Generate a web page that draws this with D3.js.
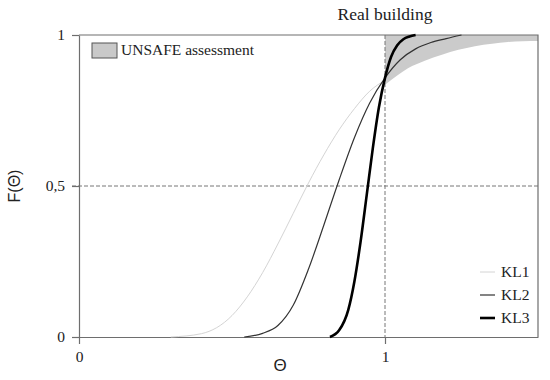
<!DOCTYPE html>
<html>
<head>
<meta charset="utf-8">
<script src="https://cdn.jsdelivr.net/npm/d3@7"></script>
<style>
  body { margin: 0; background: #fff; }
  svg text { font-family: "Liberation Serif", serif; fill: #222; }
</style>
</head>
<body>
<div id="chart"></div>
<script>
// values
const kl1Theta = [0.30, 0.40, 0.50, 0.55, 0.60, 0.65, 0.70, 0.75, 0.80, 0.85, 0.90, 0.95, 1.00];
const kl1F     = [0.000, 0.011, 0.071, 0.133, 0.213, 0.308, 0.409, 0.510, 0.603, 0.686, 0.756, 0.814, 0.850];

const kl2Theta = [0.54, 0.60, 0.65, 0.70, 0.75, 0.80, 0.85, 0.90, 0.95, 1.00, 1.05, 1.10, 1.15, 1.20, 1.25];
const kl2F     = [0.000, 0.012, 0.038, 0.105, 0.225, 0.370, 0.520, 0.660, 0.775, 0.858, 0.918, 0.954, 0.975, 0.988, 1.000];

const kl3Theta = [0.82, 0.85, 0.88, 0.90, 0.92, 0.94, 0.96, 0.98, 1.00, 1.02, 1.04, 1.06, 1.08, 1.10];
const kl3F     = [0.000, 0.022, 0.090, 0.184, 0.314, 0.468, 0.624, 0.760, 0.858, 0.928, 0.966, 0.986, 0.995, 1.000];

// lower edge of the grey UNSAFE band (upper edge is F = 1)
const bandTheta = [1.00, 1.04, 1.075, 1.13, 1.186, 1.24, 1.294, 1.35, 1.402, 1.45, 1.50];
const bandF     = [0.835, 0.866, 0.890, 0.915, 0.935, 0.951, 0.963, 0.971, 0.977, 0.979, 0.980];

const yTicks = [0, 0.5, 1];
const yTickLabels = ['0', '0,5', '1'];
const xTicks = [0, 1];
const seriesNames = ['KL1', 'KL2', 'KL3'];

const serif = '"Liberation Serif", "Times New Roman", serif';
const sans = '"Liberation Sans", Arial, sans-serif';

const width = 550, height = 380;
const margin = {top: 35, right: 12, bottom: 43, left: 79};

const svg = d3.select('#chart')
    .append('svg')
    .attr('width', width)
    .attr('height', height);

const x = d3.scaleLinear().domain([0, 1.5]).range([margin.left, width - margin.right]);
const y = d3.scaleLinear().domain([0, 1]).range([height - margin.bottom, margin.top]);

const axisColor = '#6e6e6e';

// grey band
const bandPts = bandTheta.map((t, i) => [t, bandF[i]]);
const area = d3.area()
    .x(d => x(d[0]))
    .y0(y(1))
    .y1(d => y(d[1]))
    .curve(d3.curveMonotoneX);
svg.append('path')
    .datum(bandPts)
    .attr('d', area)
    .attr('fill', '#cbcbcb');

// dashed reference lines
svg.append('line')
    .attr('x1', x(0) - 7).attr('x2', x(1.5))
    .attr('y1', y(0.5)).attr('y2', y(0.5))
    .attr('stroke', '#777').attr('stroke-width', 1)
    .attr('stroke-dasharray', '4,2');
svg.append('line')
    .attr('x1', x(1)).attr('x2', x(1))
    .attr('y1', y(1)).attr('y2', y(0))
    .attr('stroke', '#777').attr('stroke-width', 1)
    .attr('stroke-dasharray', '4,2');

// box: top and right
svg.append('path')
    .attr('d', `M${x(0)},${y(1)}H${x(1.5)}V${y(0)}`)
    .attr('fill', 'none')
    .attr('stroke', axisColor)
    .attr('stroke-width', 1.2);

// axes
const yAxis = d3.axisLeft(y)
    .tickValues(yTicks)
    .tickSize(7)
    .tickSizeOuter(0)
    .tickPadding(7)
    .tickFormat((d, i) => yTickLabels[i]);
const gy = svg.append('g')
    .attr('transform', `translate(${x(0)},0)`)
    .call(yAxis);

const xAxis = d3.axisBottom(x)
    .tickValues(xTicks)
    .tickSize(7)
    .tickSizeOuter(0)
    .tickPadding(7)
    .tickFormat(d3.format('d'));
const gx = svg.append('g')
    .attr('transform', `translate(0,${y(0)})`)
    .call(xAxis);

[gx, gy].forEach(g => {
    g.attr('font-family', null).attr('font-size', null);
    g.selectAll('.domain').attr('stroke', axisColor).attr('stroke-width', 1.2);
    g.selectAll('.tick line').attr('stroke', axisColor).attr('stroke-width', 1.2);
    g.selectAll('.tick text')
        .attr('fill', '#222')
        .style('font-family', serif)
        .style('font-size', '15.5px');
});

// curves
const line = d3.line()
    .x(d => x(d[0]))
    .y(d => y(d[1]))
    .curve(d3.curveMonotoneX);

const series = [
    {name: seriesNames[0], theta: kl1Theta, f: kl1F, color: '#d4d4d4', w: 1},
    {name: seriesNames[1], theta: kl2Theta, f: kl2F, color: '#333', w: 1.2},
    {name: seriesNames[2], theta: kl3Theta, f: kl3F, color: '#000', w: 2.6}
];

series.forEach(s => {
    svg.append('path')
        .datum(s.theta.map((t, i) => [t, s.f[i]]))
        .attr('d', line)
        .attr('fill', 'none')
        .attr('stroke', s.color)
        .attr('stroke-width', s.w);
});

// legend for curves
series.forEach((s, i) => {
    const ly = 272 + i * 23;
    svg.append('line')
        .attr('x1', 480).attr('x2', 495)
        .attr('y1', ly).attr('y2', ly)
        .attr('stroke', s.color)
        .attr('stroke-width', s.w);
    svg.append('text')
        .attr('x', 501)
        .attr('y', ly + 5)
        .style('font-family', serif)
        .style('font-size', '15.5px')
        .text(s.name);
});

// legend for the band
svg.append('rect')
    .attr('x', 92).attr('y', 43)
    .attr('width', 25).attr('height', 15)
    .attr('fill', '#c9c9c9')
    .attr('stroke', '#555')
    .attr('stroke-width', 1);
svg.append('text')
    .attr('x', 121).attr('y', 55)
    .style('font-family', serif)
    .style('font-size', '15.5px')
    .text('UNSAFE assessment');

// titles
svg.append('text')
    .attr('x', x(1))
    .attr('y', 20)
    .attr('text-anchor', 'middle')
    .style('font-family', serif)
    .style('font-size', '17.5px')
    .text('Real building');

svg.append('text')
    .attr('x', 280)
    .attr('y', 371)
    .attr('text-anchor', 'middle')
    .style('font-family', sans)
    .style('font-size', '17px')
    .text('Θ');

svg.append('text')
    .attr('transform', `translate(20,${y(0.5)}) rotate(-90)`)
    .attr('text-anchor', 'middle')
    .style('font-family', sans)
    .style('font-size', '16px')
    .text('F(Θ)');
</script>
</body>
</html>
